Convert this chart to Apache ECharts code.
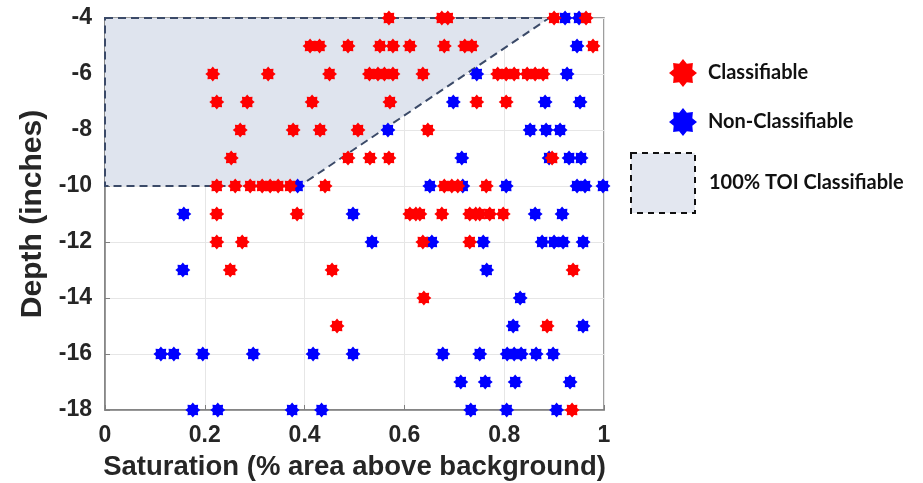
<!DOCTYPE html>
<html><head><meta charset="utf-8">
<script src="https://cdn.jsdelivr.net/npm/echarts@6/dist/echarts.min.js"></script>
<style>html,body{margin:0;padding:0;background:#fff}#c{width:923px;height:483px}</style>
</head><body><div id="c"></div>
<script>
// ---- data ----
const xTicks = [0, 0.2, 0.4, 0.6, 0.8, 1];
const yTicks = [-18, -16, -14, -12, -10, -8, -6, -4];
const classifiable = [
 [0.569,-4],[0.675,-4],[0.687,-4],[0.90,-4],[0.964,-4],
 [0.411,-5],[0.43,-5],[0.487,-5],[0.551,-5],[0.577,-5],[0.611,-5],[0.68,-5],[0.721,-5],[0.735,-5],[0.978,-5],
 [0.216,-6],[0.327,-6],[0.45,-6],[0.53,-6],[0.547,-6],[0.56,-6],[0.577,-6],[0.637,-6],[0.787,-6],[0.804,-6],[0.82,-6],[0.846,-6],[0.862,-6],[0.878,-6],
 [0.224,-7],[0.285,-7],[0.415,-7],[0.571,-7],[0.745,-7],[0.804,-7],
 [0.271,-8],[0.377,-8],[0.431,-8],[0.507,-8],[0.647,-8],
 [0.253,-9],[0.487,-9],[0.531,-9],[0.569,-9],[0.896,-9],
 [0.224,-10],[0.261,-10],[0.291,-10],[0.315,-10],[0.331,-10],[0.347,-10],[0.371,-10],[0.441,-10],[0.68,-10],[0.695,-10],[0.707,-10],[0.764,-10],
 [0.224,-11],[0.385,-11],[0.611,-11],[0.623,-11],[0.631,-11],[0.675,-11],[0.731,-11],[0.743,-11],[0.751,-11],[0.771,-11],[0.798,-11],
 [0.224,-12],[0.275,-12],[0.637,-12],[0.731,-12],
 [0.251,-13],[0.455,-13],[0.938,-13],
 [0.639,-14],
 [0.465,-15],[0.886,-15],
 [0.936,-18]
];
const nonClassifiable = [
 [0.922,-4],[0.95,-4],
 [0.946,-5],
 [0.745,-6],[0.926,-6],
 [0.698,-7],[0.882,-7],[0.952,-7],
 [0.567,-8],[0.852,-8],[0.884,-8],[0.912,-8],
 [0.715,-9],[0.89,-9],[0.93,-9],[0.954,-9],
 [0.386,-10],[0.651,-10],[0.717,-10],[0.804,-10],[0.946,-10],[0.962,-10],[0.998,-10],
 [0.158,-11],[0.497,-11],[0.862,-11],[0.916,-11],
 [0.535,-12],[0.655,-12],[0.758,-12],[0.876,-12],[0.90,-12],[0.918,-12],[0.958,-12],
 [0.156,-13],[0.765,-13],
 [0.832,-14],
 [0.818,-15],[0.958,-15],
 [0.112,-16],[0.138,-16],[0.196,-16],[0.297,-16],[0.417,-16],[0.497,-16],[0.677,-16],[0.751,-16],[0.806,-16],[0.820,-16],[0.834,-16],[0.864,-16],[0.898,-16],
 [0.713,-17],[0.762,-17],[0.822,-17],[0.932,-17],
 [0.176,-18],[0.226,-18],[0.375,-18],[0.434,-18],[0.733,-18],[0.805,-18],[0.905,-18]
];
const regionX = [0, 0.89, 0.39, 0];
const regionY = [-4, -4, -10, -10];

// ---- star symbol ----
function starPath(n, rOut, rIn) {
  let pts = [];
  for (let i = 0; i < 2 * n; i++) {
    const a = Math.PI * i / n - Math.PI / 2;
    const r = i % 2 === 0 ? rOut : rIn;
    pts.push((50 + r * Math.cos(a)).toFixed(2) + ' ' + (50 + r * Math.sin(a)).toFixed(2));
  }
  return 'path://M' + pts.join(' L') + ' Z';
}
const STAR = starPath(8, 50, 36);

const chart = echarts.init(document.getElementById('c'), null, {renderer: 'canvas'});
const FONT = 'Liberation Sans, Arial, sans-serif';
const axisFont = {fontFamily: FONT, fontWeight: 'bold', fontSize: 23, color: '#262626'};
const legendText = {fontFamily: 'Lato, Open Sans, sans-serif', fontWeight: 'bold', fontSize: 20, color: '#111'};
chart.setOption({
  animation: false,
  grid: {left: 105, right: 319, top: 18, bottom: 73, show: true, containLabel: false, outerBoundsMode: 'none',
    borderColor: '#7f7f7f', borderWidth: 1.5, backgroundColor: 'transparent'},
  xAxis: {
    type: 'value', min: xTicks[0], max: xTicks[xTicks.length - 1], interval: 0.2,
    axisLine: {show: true, onZero: false, lineStyle: {color: '#7f7f7f', width: 1.5}},
    axisTick: {inside: true, length: 5, lineStyle: {color: '#7f7f7f'}},
    splitLine: {show: true, lineStyle: {color: '#e6e6e6', width: 1}},
    axisLabel: Object.assign({margin: 14}, axisFont),
    name: 'Saturation (% area above background)', nameLocation: 'middle', nameGap: 43,
    nameTextStyle: {fontFamily: FONT, fontWeight: 'bold', fontSize: 27.5, color: '#262626'}
  },
  yAxis: {
    type: 'value', min: yTicks[0], max: yTicks[yTicks.length - 1], interval: 2,
    axisLine: {show: true, onZero: false, lineStyle: {color: '#7f7f7f', width: 1.5}},
    axisTick: {inside: true, length: 5, lineStyle: {color: '#7f7f7f'}},
    splitLine: {show: true, lineStyle: {color: '#e6e6e6', width: 1}},
    axisLabel: Object.assign({margin: 13}, axisFont),
    name: 'Depth (inches)', nameLocation: 'middle', nameGap: 53, nameRotate: 90,
    nameTextStyle: {fontFamily: FONT, fontWeight: 'bold', fontSize: 30, color: '#262626'}
  },
  legend: [{
    orient: 'vertical', left: 664, top: 54, itemWidth: 28, itemHeight: 28, itemGap: 21,
    textStyle: Object.assign({padding: [0, 0, 0, 6]}, legendText),
    data: [
      {name: 'Classifiable', icon: STAR},
      {name: 'Non-Classifiable', icon: STAR}
    ]
  }, {
    orient: 'vertical', left: 625, top: 147, itemWidth: 64, itemHeight: 60, itemGap: 10,
    textStyle: Object.assign({padding: [0, 0, 0, 9]}, legendText),
    data: [{name: '100% TOI Classifiable', icon: 'rect',
      itemStyle: {color: '#e3e7f0', borderColor: '#111', borderWidth: 2, borderType: [6, 5]}}]
  }],
  series: [{
    name: '100% TOI Classifiable', type: 'custom', z: 1,
    data: [0],
    itemStyle: {color: '#e3e7f0', borderColor: '#111', borderWidth: 2, borderType: [6, 5]},
    renderItem: function (params, api) {
      const pts = regionX.map((x, i) => api.coord([x, regionY[i]]));
      return {type: 'polygon', shape: {points: pts},
        style: {fill: '#dfe4ee', stroke: '#3b4a68', lineWidth: 2, lineDash: [8, 5]}};
    },
    silent: true
  }, {
    name: 'Non-Classifiable', type: 'scatter', z: 3, symbol: STAR, symbolSize: 15,
    itemStyle: {color: '#0000ff', opacity: 1}, data: nonClassifiable
  }, {
    name: 'Classifiable', type: 'scatter', z: 4, symbol: STAR, symbolSize: 15,
    itemStyle: {color: '#ff0000', opacity: 1}, data: classifiable
  }]
});
</script></body></html>
